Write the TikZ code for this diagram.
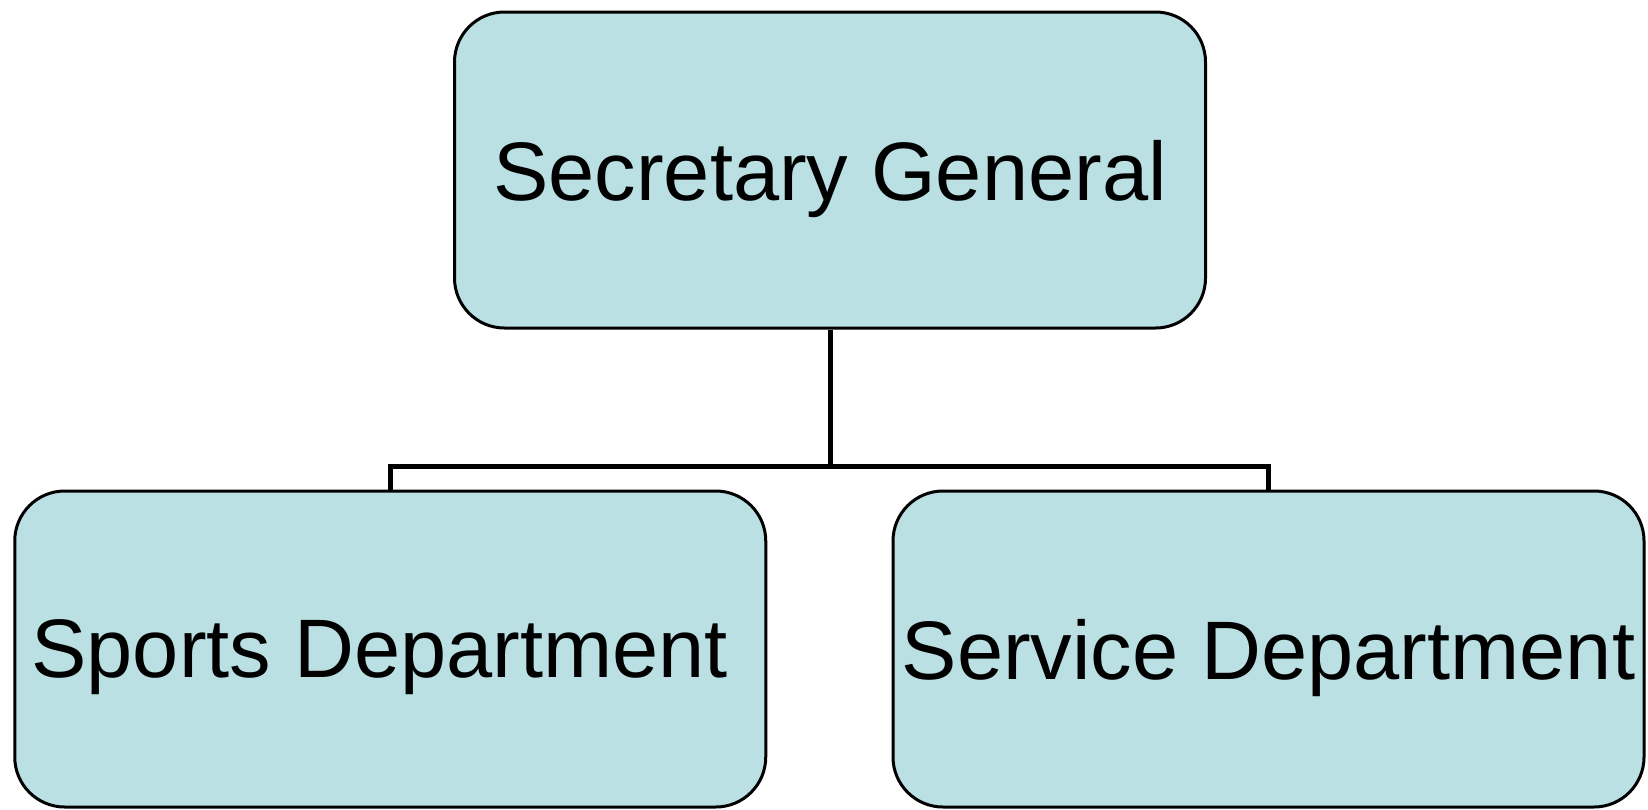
\documentclass[tikz,border=0pt]{standalone}
\usepackage{fontspec}
\setmainfont{Liberation Sans}
\definecolor{boxfill}{RGB}{186,224,227}
\begin{document}
\begin{tikzpicture}[x=1pt,y=-1pt,
  orgbox/.style={draw=black, line width=3pt, fill=boxfill, rounded corners=50pt,
    minimum width=751pt, minimum height=316pt, inner sep=0pt, text depth=0pt,
    font=\fontsize{83}{99}\selectfont},
  conn/.style={draw=black, line width=5pt, line join=miter}]
\useasboundingbox (0,0) rectangle (1648,809);
\node[orgbox] (top) at (830,170) {Secretary General};
\node[orgbox] (left) at (390.25,649) {Sports Department\kern 21pt};
\node[orgbox] (right) at (1268.5,649) {Service Department};
\coordinate (j) at (830,466);
\draw[conn] (top.south) -- (j);
\draw[conn] (left.north) -- (left.north |- j) -- (right.north |- j) -- (right.north);
\end{tikzpicture}
\end{document}
